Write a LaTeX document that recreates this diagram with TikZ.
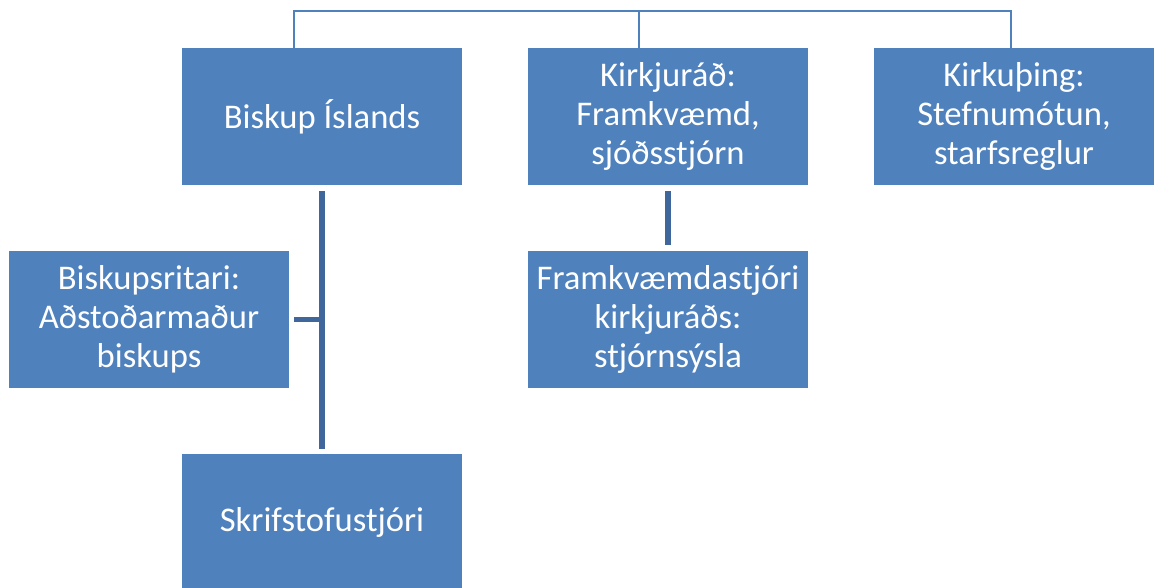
\documentclass[tikz,border=0pt]{standalone}
\usepackage{fontspec}
\setmainfont{Carlito}
\definecolor{boxblue}{HTML}{4F81BD}
\definecolor{lineblue}{HTML}{3F679C}

\begin{document}
\begin{tikzpicture}[x=1pt, y=-1pt,
  orgbox/.style={fill=boxblue, minimum width=280pt, minimum height=137pt, inner sep=0pt,
    text=white, align=center, font=\fontsize{34.6}{39}\selectfont},
  topline/.style={draw=boxblue, line width=1.6pt},
  orgline/.style={draw=lineblue, line width=5.5pt}]
  \useasboundingbox (0,0) rectangle (1155,587);
  \clip (0,0) rectangle (1155,587);
  \node[orgbox] (biskup) at (322,116.5) {Biskup Íslands};
  \node[orgbox] (rad) at (668,116.5) {Kirkjuráð:\\Framkvæmd,\\sjóðsstjórn};
  \node[orgbox] (thing) at (1014,116.5) {Kirkuþing:\\Stefnumótun,\\starfsreglur};
  \node[orgbox] (ritari) at (149,319.5) {Biskupsritari:\\Aðstoðarmaður\\biskups};
  \node[orgbox] (framkv) at (668,319.5) {Framkvæmdastjóri\\kirkjuráðs:\\stjórnsýsla};
  \node[orgbox] (skrif) at (322,522.5) {Skrifstofustjóri};
  % top connector
  \draw[topline] ([xshift=-28pt]biskup.north) -- ++(0,-37) -| ([xshift=-3pt]thing.north);
  \draw[topline] ([xshift=-29pt]rad.north) -- ++(0,-37);
  % lines below
  \draw[orgline, shorten <=6pt, shorten >=5pt] (biskup.south) -- (skrif.north);
  \draw[orgline, shorten <=5pt] (ritari.east) -- (biskup.south |- ritari.east);
  \draw[orgline, shorten <=6pt, shorten >=6pt] (rad.south) -- (framkv.north);
\end{tikzpicture}
\end{document}
